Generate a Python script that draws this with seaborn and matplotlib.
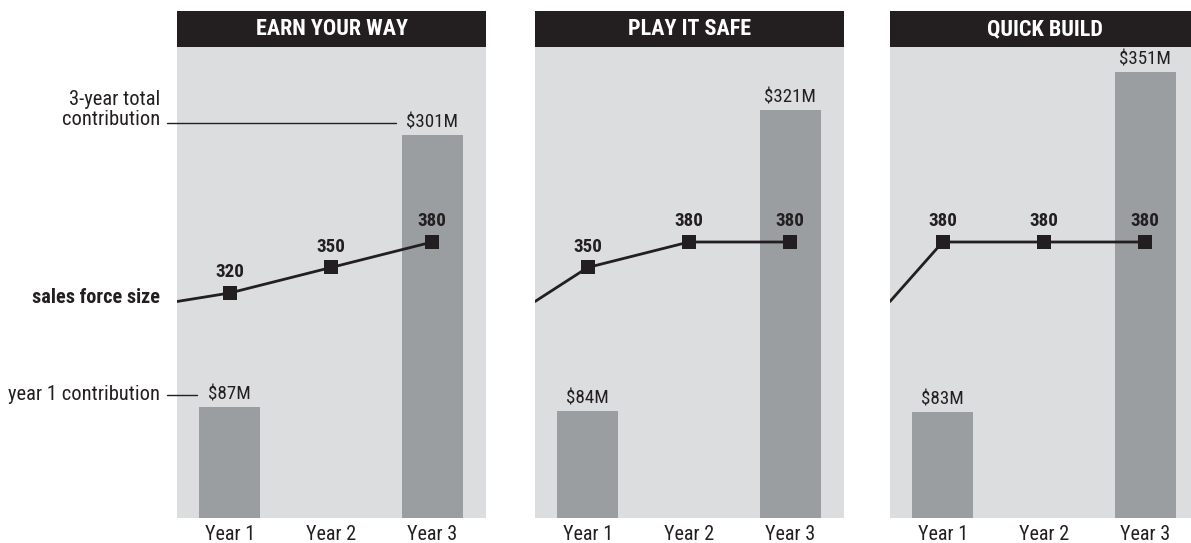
import numpy as np
import pandas as pd
import matplotlib
matplotlib.use("Agg")
import matplotlib.pyplot as plt
import seaborn as sns
from matplotlib import font_manager as fm
from matplotlib.transforms import offset_copy
from matplotlib.patches import Rectangle

# ---------------- data ----------------
scenarios = ["EARN YOUR WAY", "PLAY IT SAFE", "QUICK BUILD"]
years = ["Year 1", "Year 2", "Year 3"]
year1_contrib = [87, 84, 83]          # $M
total_contrib = [301, 321, 351]       # $M, 3-year total
start_size = [310, 310, 310]          # current sales force (left edge)
size_year1 = [320, 350, 380]
size_year2 = [350, 380, 380]
size_year3 = [380, 380, 380]

# ---------------- style ----------------
sns.set_theme(style="white")
plt.rcParams["font.family"] = ["Roboto", "DejaVu Sans"]

INK = "#231f20"
PANEL = "#dcdddf"
BAR = "#9b9ea1"


def pick_fonts():
    """Find a condensed/narrow family with regular and bold faces."""
    prefs = ["liberation sans narrow", "roboto condensed", "dejavu sans",
             "noto sans", "open sans", "arial narrow"]
    entries = [f for f in fm.fontManager.ttflist if f.style == "normal"]
    for pref in prefs:
        reg = bold = None
        for f in entries:
            nm = f.name.lower()
            condensed = ("narrow" in nm or "condensed" in nm or
                         "condensed" in str(f.stretch) or
                         "condensed" in f.fname.lower())
            if not nm.startswith(pref.split(" narrow")[0].split(" condensed")[0]):
                continue
            if not condensed:
                continue
            w = f.weight if isinstance(f.weight, int) else (700 if "bold" in str(f.weight) else 400)
            if w in (400, "normal", "regular") and reg is None:
                reg = f.fname
            if w >= 700 and bold is None and "black" not in f.fname.lower():
                bold = f.fname
        if reg and bold:
            return fm.FontProperties(fname=reg), fm.FontProperties(fname=bold)
    return (fm.FontProperties(family=["Roboto", "DejaVu Sans"]),
            fm.FontProperties(family=["Roboto", "DejaVu Sans"], weight="bold"))


FP_REG, FP_BOLD = pick_fonts()

W, H = 1191, 543
fig = plt.figure(figsize=(W / 100, H / 100), dpi=100)
fig.patch.set_facecolor("white")
_renderer = fig.canvas.get_renderer()


def fit_size(text, target_px, fp):
    t = fig.text(0, 0, text, fontproperties=fp, size=10)
    wpx = t.get_window_extent(_renderer).width
    t.remove()
    return 10 * target_px / wpx


def fpsize(fp, size):
    p = fp.copy()
    p.set_size(size)
    return p


SZ_TITLE = fit_size("EARN YOUR WAY", 151, FP_BOLD)
SZ_TICK = fit_size("Year 1", 50, FP_REG)
SZ_BARLAB = fit_size("$301M", 52, FP_REG)
SZ_VAL = fit_size("320", 29, FP_BOLD)
SZ_LEFT = fit_size("year 1 contribution", 151, FP_REG)
SZ_SF = fit_size("sales force size", 128, FP_BOLD)

panel_left = [177, 535, 890]
pw = 309
bottom_px, top_px, header_px = 518, 47, 36
ph = bottom_px - top_px
XLIM = (-0.52, 2.53)
BAR_YLIM = (0, 370.4)
SIZE_YLIM = (55.3, 609.4)

for i, name in enumerate(scenarios):
    rect = [panel_left[i] / W, (H - bottom_px) / H, pw / W, ph / H]
    ax = fig.add_axes(rect)
    ax.set_facecolor(PANEL)

    bar_df = pd.DataFrame({"year": years,
                           "value": [year1_contrib[i], np.nan, total_contrib[i]]})
    sns.barplot(data=bar_df, x="year", y="value", order=years, color=BAR,
                saturation=1, width=0.6, linewidth=0, errorbar=None, ax=ax)
    ax.set_xlim(*XLIM)
    ax.set_ylim(*BAR_YLIM)
    ax.set_xlabel("")
    ax.set_ylabel("")
    ax.set_yticks([])
    ax.tick_params(axis="x", length=0, pad=5, labelcolor=INK)
    for lab in ax.get_xticklabels():
        lab.set_fontproperties(fpsize(FP_REG, SZ_TICK))
    for s in ax.spines.values():
        s.set_visible(False)

    # header bar
    ax.add_patch(Rectangle((0, 1), 1, header_px / ph, transform=ax.transAxes,
                           clip_on=False, facecolor=INK, edgecolor="none"))
    ax.text(0.5, 1 + header_px / ph / 2, name, transform=ax.transAxes,
            ha="center", va="center", color="white",
            fontproperties=fpsize(FP_BOLD, SZ_TITLE))

    # bar value labels
    for xpos, v in [(0, year1_contrib[i]), (2, total_contrib[i])]:
        ax.annotate(f"${v}M", (xpos, v), xytext=(0, 9), textcoords="offset points",
                    ha="center", va="center", color=INK,
                    fontproperties=fpsize(FP_REG, SZ_BARLAB))

    # sales force line on overlay axes
    lax = fig.add_axes(rect)
    lax.set_xlim(*XLIM)
    lax.set_ylim(*SIZE_YLIM)
    lax.axis("off")
    lax.patch.set_alpha(0)
    sizes = [size_year1[i], size_year2[i], size_year3[i]]
    line_df = pd.DataFrame({"x": [XLIM[0], 0, 1, 2],
                            "size": [start_size[i]] + sizes})
    sns.lineplot(data=line_df, x="x", y="size", color=INK, linewidth=2.0,
                 sort=False, ax=lax)
    pts_df = pd.DataFrame({"x": [0, 1, 2], "size": sizes})
    sns.scatterplot(data=pts_df, x="x", y="size", marker="s", s=105,
                    color=INK, linewidth=0, ax=lax, zorder=5)
    lax.set_xlim(*XLIM)
    lax.set_ylim(*SIZE_YLIM)
    for xpos, v in zip([0, 1, 2], sizes):
        lax.annotate(str(v), (xpos, v), xytext=(0, 15), textcoords="offset points",
                     ha="center", va="center", color=INK,
                     fontproperties=fpsize(FP_BOLD, SZ_VAL))

    # left-side annotations on the first panel
    if i == 0:
        t_lab = offset_copy(ax.transData, fig=fig, y=9, units="points")
        ax.plot([-0.62, 1.64], [total_contrib[i]] * 2, transform=t_lab,
                clip_on=False, color=INK, lw=1.0)
        ax.plot([-0.62, -0.32], [year1_contrib[i]] * 2, transform=t_lab,
                clip_on=False, color=INK, lw=1.0)
        ax.text(-0.69, year1_contrib[i], "year 1 contribution", transform=t_lab,
                ha="right", va="center", color=INK,
                fontproperties=fpsize(FP_REG, SZ_LEFT))
        t_top = offset_copy(ax.transData, fig=fig, y=18.5, units="points")
        ax.text(-0.69, total_contrib[i], "3-year total\ncontribution",
                transform=t_top, ha="right", va="center", color=INK,
                linespacing=1.05, multialignment="right",
                fontproperties=fpsize(FP_REG, SZ_LEFT))
        t_sf = offset_copy(lax.transData, fig=fig, y=3, units="points")
        lax.text(-0.69, start_size[i], "sales force size", transform=t_sf,
                 ha="right", va="center", color=INK,
                 fontproperties=fpsize(FP_BOLD, SZ_SF))

fig.savefig("out.png", dpi=100)
